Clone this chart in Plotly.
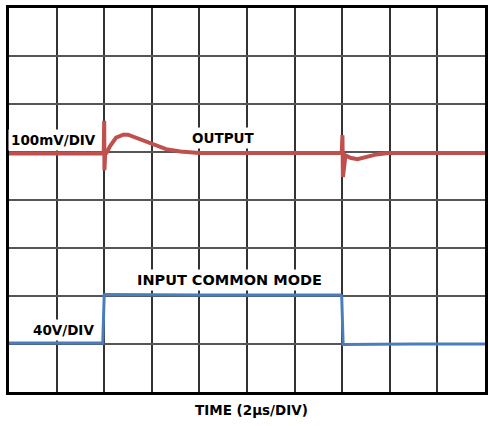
import plotly.graph_objects as go

# Time axis in divisions (2 us/DIV), values in vertical divisions
out_t = [0, 1.99, 2.0, 2.005, 2.02, 2.06, 2.12, 2.25, 2.4, 2.5, 2.7, 3.0, 3.3, 3.6, 4.0,
         5.0, 6.0, 6.99, 7.005, 7.015, 7.07, 7.17, 7.32, 7.52, 7.72, 7.97, 9.0, 10.0]
out_v = [4.97, 4.97, 5.65, 4.62, 4.95, 5.0, 5.12, 5.3, 5.36, 5.36, 5.28, 5.16, 5.06, 5.01, 4.98,
         4.98, 4.98, 4.98, 5.35, 4.48, 4.93, 4.88, 4.85, 4.9, 4.95, 4.98, 4.98, 4.98]

in_t = [0, 1.97, 2.0, 2.02, 4.0, 6.97, 6.99, 7.02, 8.5, 10.0]
in_v = [1.02, 1.02, 2.02, 2.03, 2.02, 2.02, 1.99, 0.99, 1.0, 1.0]

labels = ["100mV/DIV", "OUTPUT", "INPUT COMMON MODE", "40V/DIV"]
x_title = "TIME (2µs/DIV)"

fig = go.Figure()
fig.add_trace(go.Scatter(x=out_t, y=out_v, mode="lines",
                         line=dict(color="#C0504D", width=4), hoverinfo="skip"))
fig.add_trace(go.Scatter(x=in_t, y=in_v, mode="lines",
                         line=dict(color="#4A7EBB", width=3), hoverinfo="skip"))

font = dict(family="DejaVu Sans", size=13.5, color="black")
ann = [
    dict(x=0.94, y=5.26, text="<b>%s</b>" % labels[0]),
    dict(x=4.51, y=5.29, text="<b>%s</b>" % labels[1]),
    dict(x=4.63, y=2.34, text="<b>%s</b>" % labels[2], font=dict(family="DejaVu Sans", size=14.5, color="black")),
    dict(x=1.15, y=1.30, text="<b>%s</b>" % labels[3]),
]
for a in ann:
    fig.add_annotation(xref="x", yref="y", showarrow=False, bgcolor="white",
                       borderpad=2, font=a.pop("font", font), **a)
fig.add_annotation(xref="paper", yref="paper", x=0.509, y=-0.047, showarrow=False,
                   text="<b>%s</b>" % x_title, font=font, yanchor="middle")

fig.update_xaxes(range=[0, 10], dtick=1, tick0=0, showgrid=True, gridcolor="#333333",
                 gridwidth=2, showticklabels=False, ticks="", zeroline=False,
                 showline=True, mirror=True, linecolor="black", linewidth=3)
fig.update_yaxes(range=[0, 8], dtick=1, tick0=0, showgrid=True, gridcolor="#555555",
                 gridwidth=2, showticklabels=False, ticks="", zeroline=False,
                 showline=True, mirror=True, linecolor="black", linewidth=3)

fig.update_layout(width=490, height=426, margin=dict(l=9, r=2, t=8, b=34),
                  paper_bgcolor="white", plot_bgcolor="white", showlegend=False)

fig.write_html("out.html", config={"displayModeBar": False},
               post_script="document.body.style.margin='0';document.body.style.overflow='hidden';")
